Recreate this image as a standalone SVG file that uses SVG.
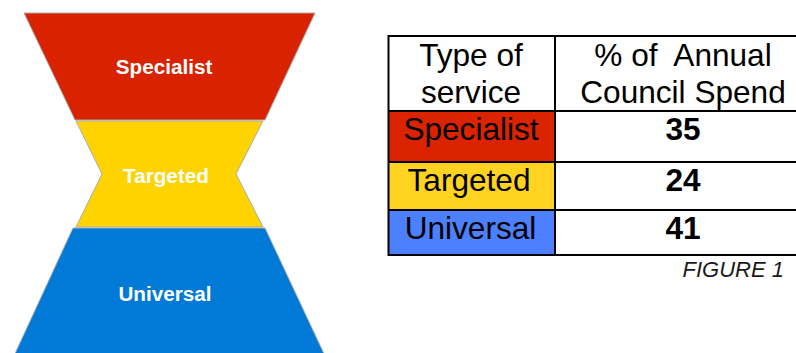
<svg xmlns="http://www.w3.org/2000/svg" width="796" height="353" viewBox="0 0 796 353">
  <style>
    .tier { stroke: #ababab; stroke-width: 1; stroke-linejoin: round; }
    .tier-label { font-family: "Liberation Sans", Arial, sans-serif; font-weight: bold; font-size: 20.7px; fill: #ffffff; text-anchor: middle; }
    .cell-text { font-family: "Liberation Sans", Arial, sans-serif; font-size: 31.6px; fill: #000000; text-anchor: middle; }
    .cell-num { font-family: "Liberation Sans", Arial, sans-serif; font-size: 31.6px; font-weight: bold; fill: #000000; text-anchor: middle; }
    .grid { stroke: #000000; stroke-width: 2; fill: none; }
    .caption { font-family: "Liberation Sans", Arial, sans-serif; font-size: 22px; font-style: italic; fill: #1a1a1a; text-anchor: end; }
  </style>

  <rect width="796" height="353" fill="#ffffff"/>

  <!-- Hourglass of service tiers -->
  <g id="specialist">
    <polygon class="tier" points="24,13 315,13 265,120 75,120" fill="#d82200"/>
    <text class="tier-label" x="164" y="74">Specialist</text>
  </g>
  <g id="targeted">
    <polygon class="tier" points="76,121 263,121 236,174 263,227 76,227 102,174" fill="#ffd300"/>
    <text class="tier-label" x="166" y="183">Targeted</text>
  </g>
  <g id="universal">
    <polygon class="tier" points="73,228 265,228 326,358 13,358" fill="#007ad6"/>
    <text class="tier-label" x="165" y="300.5">Universal</text>
  </g>

  <!-- Spend table -->
  <g id="spend-table">
    <rect x="388" y="111" width="167" height="51" fill="#dc2300"/>
    <rect x="388" y="162" width="167" height="48" fill="#ffd320"/>
    <rect x="388" y="210" width="167" height="45" fill="#4c80ff"/>

    <rect class="grid" x="388.5" y="36" width="430" height="219"/>
    <line class="grid" x1="555" y1="36" x2="555" y2="255"/>
    <line class="grid" x1="388" y1="111" x2="818" y2="111"/>
    <line class="grid" x1="388" y1="162" x2="818" y2="162"/>
    <line class="grid" x1="388" y1="210" x2="818" y2="210"/>

    <text class="cell-text" x="471" y="66">Type of</text>
    <text class="cell-text" x="471" y="102.5">service</text>
    <text class="cell-text" x="683" y="66" xml:space="preserve">% of  Annual</text>
    <text class="cell-text" x="683" y="102.5">Council Spend</text>

    <text class="cell-text" x="471" y="140">Specialist</text>
    <text class="cell-num" x="683" y="140">35</text>
    <text class="cell-text" x="469" y="191">Targeted</text>
    <text class="cell-num" x="683" y="191">24</text>
    <text class="cell-text" x="470.5" y="239">Universal</text>
    <text class="cell-num" x="683" y="239">41</text>
  </g>

  <text class="caption" x="784" y="277">FIGURE 1</text>
</svg>
